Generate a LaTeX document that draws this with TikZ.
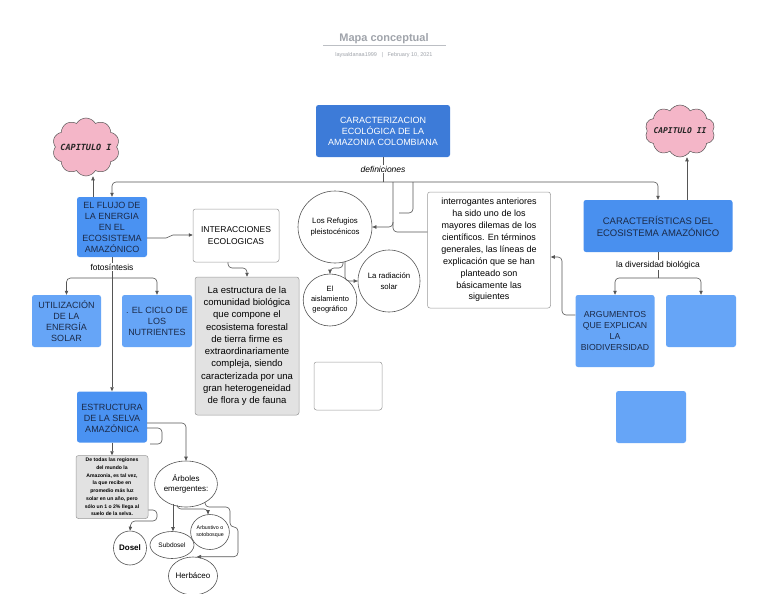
\documentclass[tikz,border=0pt]{standalone}
\usepackage{fontspec}
\setmainfont{Liberation Sans}
\newfontfamily\comicfont{DejaVu Sans Mono}
\usetikzlibrary{shapes.geometric,shapes.symbols,arrows.meta}
\definecolor{mainblue}{HTML}{3D7BD8}
\definecolor{boxblue}{HTML}{4A92F2}
\definecolor{lightblue}{HTML}{66A5F7}
\definecolor{txtnavy}{HTML}{1B2A48}
\definecolor{linegray}{HTML}{555555}
\definecolor{bordergray}{HTML}{9A9A9A}
\definecolor{greyfill}{HTML}{E2E2E2}
\definecolor{pinkfill}{HTML}{F4B6C8}
\definecolor{titlegray}{HTML}{A0A4AB}
\tikzset{
  conn/.style={draw=linegray, line width=0.6pt, rounded corners=4pt},
  arr/.style={conn, -{Triangle[length=4pt,width=3.4pt]}},
  boxbase/.style={rectangle, rounded corners=2.5pt, align=center, inner sep=0pt},
  mainbox/.style={boxbase, fill=mainblue, text=white, font=\fontsize{9}{11}\selectfont},
  bluebox/.style={boxbase, fill=boxblue, text=txtnavy, font=\fontsize{9}{11}\selectfont},
  lightbox/.style={boxbase, fill=lightblue, text=txtnavy, font=\fontsize{9}{11}\selectfont},
  whitebox/.style={boxbase, draw=bordergray, line width=0.5pt, fill=white, text=black},
  greybox/.style={boxbase, draw=bordergray, line width=0.5pt, fill=greyfill, text=black},
  circ/.style={ellipse, draw=linegray, line width=0.6pt, fill=white, align=center, inner sep=0pt, text=black},
  lbl/.style={inner sep=1pt, text=black, font=\fontsize{8.5}{10}\selectfont},
  cloudnode/.style={cloud, cloud puffs=10, cloud puff arc=120, aspect=1.25, draw=linegray, line width=0.5pt, fill=pinkfill, inner sep=0pt},
  cloudtext/.style={text=black!85, font=\comicfont\bfseries\itshape\fontsize{8}{10}\selectfont, inner sep=0pt},
}
\begin{document}
\begin{tikzpicture}[x=1pt,y=-1pt]
\useasboundingbox (0,0) rectangle (768,594);
\fill[white] (0,0) rectangle (768,594);

% title
\node[font=\bfseries\fontsize{11}{13}\selectfont, text=titlegray] (title) at (384,39) {Mapa conceptual};
\draw[titlegray!70, line width=1pt] (323,46) -- (446,46);
\node[font=\fontsize{5.5}{7}\selectfont, text=titlegray] (sub) at (384,55) {laysaldanaa1999 \ \ | \ \ February 10, 2021};

% main
\node[mainbox, minimum width=134pt, minimum height=52pt] (main) at (383,131) {CARACTERIZACION\\ECOLÓGICA DE LA\\AMAZONIA COLOMBIANA};
\node[lbl, font=\itshape\fontsize{8.5}{10}\selectfont] (def) at (383,169) {definiciones};

% clouds
\node[cloudnode, minimum width=67pt, minimum height=58pt, label={[cloudtext, font=\comicfont\bfseries\itshape\fontsize{8.5}{10}\selectfont]center:CAPITULO I}] (cloud1) at (86,147) {};
\node[cloudnode, minimum width=70pt, minimum height=52pt, label={[cloudtext]center:CAPITULO II}] (cloud2) at (680,131) {};

% left column
\node[bluebox, minimum width=70pt, minimum height=60pt] (flujo) at (112,227) {EL FLUJO DE\\LA ENERGIA\\EN EL\\ECOSISTEMA\\AMAZÓNICO};
\node[whitebox, minimum width=86pt, minimum height=53pt, font=\fontsize{8.5}{12}\selectfont] (inter) at (236,235.5) {INTERACCIONES\\ECOLOGICAS};
\node[greybox, minimum width=104pt, minimum height=138pt, font=\fontsize{9.5}{12.3}\selectfont] (grey) at (247,346) {La estructura de la\\comunidad biológica\\que compone el\\ecosistema forestal\\de tierra firme es\\extraordinariamente\\compleja, siendo\\caracterizada por una\\gran heterogeneidad\\de flora y de fauna};
\node[lbl] (foto) at (112,267) {fotosíntesis};
\node[lightbox, minimum width=69pt, minimum height=52pt] (util) at (66.5,321) {UTILIZACIÓN\\DE LA\\ENERGÍA\\SOLAR};
\node[lightbox, minimum width=70pt, minimum height=52pt] (ciclo) at (157,321) {. EL CICLO DE\\LOS\\NUTRIENTES};
\node[bluebox, minimum width=70pt, minimum height=51pt] (estr) at (112,417) {{\fontsize{4}{4}\selectfont .}\\[-2pt]ESTRUCTURA\\DE LA SELVA\\AMAZÓNICA};
\node[greybox, minimum width=72pt, minimum height=63pt, font=\bfseries\fontsize{5.1}{7.7}\selectfont] (small) at (112,487) {De todas las regiones\\del mundo la\\Amazonia, es tal vez,\\la que recibe en\\promedio más luz\\solar en un año, pero\\sólo un 1 o 2\% llega al\\suelo de la selva.};

% lower circles
\node[circ, minimum width=52pt, minimum height=46pt, font=\fontsize{8}{10}\selectfont] (arb) at (186,484) {Árboles\\emergentes:};
\node[circ, minimum width=33pt, minimum height=34pt, font=\bfseries\fontsize{8}{10}\selectfont] (dosel) at (130,548) {Dosel};
\node[circ, minimum width=44pt, minimum height=27pt, font=\fontsize{6.5}{8}\selectfont] (subd) at (172,545) {Subdosel};
\node[circ, minimum width=37pt, minimum height=35pt, font=\fontsize{5.3}{7}\selectfont] (arbu) at (210,532) {Arbustivo o\\sotobosque};
\node[circ, minimum width=38pt, minimum height=38pt, font=\fontsize{8}{10}\selectfont] (herb) at (193,576) {Herbáceo};

% middle circles
\node[circ, minimum width=74pt, minimum height=72pt, font=\fontsize{7.8}{11}\selectfont] (ref) at (335,227) {Los Refugios\\pleistocénicos};
\node[circ, minimum width=62pt, minimum height=62pt, font=\fontsize{7.8}{11}\selectfont] (rad) at (389,281) {La radiación\\solar};
\node[circ, minimum width=51pt, minimum height=52pt, font=\fontsize{7.5}{10}\selectfont] (ais) at (330,300) {El\\aislamiento\\geográfico};
\node[whitebox, minimum width=68pt, minimum height=48pt] (empty1) at (348,386) {};

\node[whitebox, minimum width=123pt, minimum height=116pt, font=\fontsize{9}{11.9}\selectfont] (interrog) at (489,250) {interrogantes anteriores\\ha sido uno de los\\mayores dilemas de los\\científicos. En términos\\generales, las líneas de\\explicación que se han\\planteado son\\básicamente las\\siguientes};

% right column
\node[bluebox, fill=boxblue!90!mainblue, minimum width=149pt, minimum height=52pt, font=\fontsize{9.5}{12}\selectfont] (caract) at (658,226) {CARACTERÍSTICAS DEL\\ECOSISTEMA AMAZÓNICO};
\node[lbl] (div) at (658,265) {la diversidad biológica};
\node[lightbox, minimum width=79pt, minimum height=72pt, font=\fontsize{8.7}{11}\selectfont] (arg) at (615,331) {ARGUMENTOS\\QUE EXPLICAN\\LA\\BIODIVERSIDAD};
\node[lightbox, minimum width=70pt, minimum height=52pt] (blue1) at (701,321) {};
\node[lightbox, minimum width=70pt, minimum height=52pt] (blue2) at (651,417) {};

% connectors top
\coordinate (hub) at (383,182);
\draw[conn] (main.south) -- (def.north);
\draw[conn] (def.south) -- (hub);
\draw[arr] (hub) -| (flujo.north);
\draw[arr] (hub) -| (caract.north);
\coordinate (rh) at (393,182);
\draw[arr] (rh) |- (ref.east);
\draw[conn] (interrog.west |- 0,232) -| (393,222);
\draw[conn] (413,182) |- (399,213);

\draw[arr] (flujo.north -| 93,0) -- (cloud1.south -| 93,0);
\draw[arr] (caract.north -| 687,0) -- (cloud2.south -| 687,0);

% left connectors
\draw[arr, rounded corners=2pt] (flujo.east |- 0,238) -- (168,238) -- (171,235) -- (inter.west |- 0,235);
\draw[arr] (inter.south -| 228,0) |- (247,268) -- (grey.north);
\coordinate (fh) at (112,278);
\draw[conn] (flujo.south) -- (foto.north);
\draw[conn] (foto.south) -- (fh);
\draw[arr] (fh) -| (util.north);
\draw[arr] (fh) -| (ciclo.north);
\draw[arr] (fh) -- (estr.north);

\draw[arr] (estr.south) -- (small.north);
\draw[arr] (estr.east |- 0,423) -| (arb.north);
\draw[conn] (estr.east |- 0,428) -| (162,444) -- (150,444);
\draw[arr] (small.east |- 0,510) -- (157,510) |- (131,521) -- (dosel.north);
\draw[arr] (173,504) -- (subd.north -| 173,0);
\draw[arr] (177,505) |- (208,509) -- (arbu.north -| 208,0);
\draw[arr] (205,502) |- (230,507) |- (238,527) |- ([xshift=4pt]herb.north);

% middle connectors
\draw[arr] (345,262) |- (rad.west);
\draw[arr] (343,262) |- (330,268) -- (ais.north);

% right connectors
\draw[arr] (arg.west |- 0,315) -| (562,257) -- (interrog.east |- 0,257);
\coordinate (dh) at (658,278);
\draw[conn] (caract.south) -- (div.north);
\draw[conn] (div.south) -- (dh);
\draw[arr] (dh) -| (arg.north);
\draw[arr] (dh) -| (blue1.north);
\end{tikzpicture}
\end{document}
